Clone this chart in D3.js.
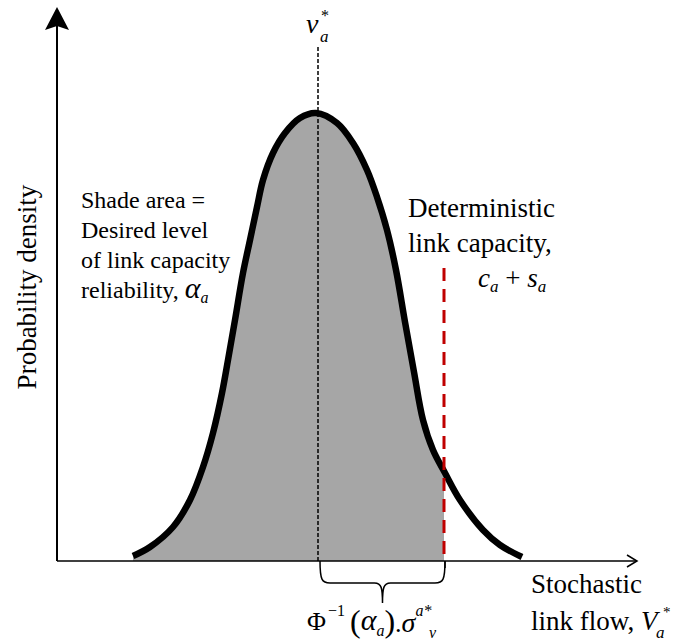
<!DOCTYPE html>
<html>
<head>
<meta charset="utf-8">
<script src="https://cdn.jsdelivr.net/npm/d3@7"></script>
<style>
  html, body { margin: 0; padding: 0; background: #fff; }
</style>
</head>
<body>
<div id="chart"></div>
<script>
// curve (flow units, density units)
var flow    = [76, 93, 116, 133, 146, 156, 165, 171, 178, 186, 193, 200, 206, 216, 228, 243, 259, 280, 296, 310, 320, 330, 339, 348, 357, 366, 376, 388, 403, 426, 443, 465];
var density = [5, 14, 34, 61, 94, 128, 168, 201, 241, 288, 321, 354, 381, 408, 428, 443, 448, 438, 418, 391, 364, 331, 291, 239, 189, 141, 111, 88, 61, 31, 16, 4];
var meanFlow = 261;      // v_a*
var capFlow = 387;       // c_a + s_a
var capTop = 293;        // where the red dashed line starts

var W = 674, H = 643;
var svg = d3.select("#chart").append("svg").attr("width", W).attr("height", H)
  .attr("font-family", "'Liberation Serif', 'Times New Roman', 'DejaVu Serif', serif");

var x = d3.scaleLinear().domain([0, 580]).range([57, 637]);
var y = d3.scaleLinear().domain([0, 554]).range([561, 7]);

var pts = flow.map(function(f, i) { return [f, density[i]]; });

// shaded area, clipped at capacity
svg.append("clipPath").attr("id", "clip")
  .append("rect").attr("x", 0).attr("y", 0).attr("width", x(capFlow)).attr("height", H);

var area = d3.area().x(function(d) { return x(d[0]); }).y0(y(0)).y1(function(d) { return y(d[1]); })
  .curve(d3.curveCatmullRom);
svg.append("path").datum(pts).attr("d", area)
  .attr("fill", "#a6a6a6").attr("clip-path", "url(#clip)");

// mean dashed line
svg.append("line")
  .attr("x1", x(meanFlow)).attr("x2", x(meanFlow))
  .attr("y1", 47).attr("y2", y(0))
  .attr("stroke", "#000").attr("stroke-width", 1.5).attr("stroke-dasharray", "4,2");

// curve
var line = d3.line().x(function(d) { return x(d[0]); }).y(function(d) { return y(d[1]); })
  .curve(d3.curveCatmullRom);
svg.append("path").datum(pts).attr("d", line)
  .attr("fill", "none").attr("stroke", "#000").attr("stroke-width", 6.5);

// capacity red dashed line
svg.append("line")
  .attr("x1", x(capFlow)).attr("x2", x(capFlow))
  .attr("y1", y(capTop)).attr("y2", y(0))
  .attr("stroke", "#c00000").attr("stroke-width", 3).attr("stroke-dasharray", "13,8");

// axes
svg.append("line").attr("x1", x(0)).attr("x2", x(0)).attr("y1", y(0)).attr("y2", 26)
  .attr("stroke", "#000").attr("stroke-width", 2);
svg.append("path").attr("d", "M57,7 L45,30 L57,26 L69,30 Z").attr("fill", "#000");
svg.append("line").attr("x1", x(0)).attr("x2", 636).attr("y1", y(0)).attr("y2", y(0))
  .attr("stroke", "#000").attr("stroke-width", 1.5);
svg.append("path").attr("d", "M627,555 L637,561 L627,567")
  .attr("fill", "none").attr("stroke", "#000").attr("stroke-width", 1.5);
svg.append("line").attr("x1", x(capFlow) + 1).attr("x2", x(capFlow) + 1).attr("y1", y(0)).attr("y2", 568)
  .attr("stroke", "#000").attr("stroke-width", 1.5);

// brace
var bl = x(meanFlow) + 2, br = x(capFlow) + 1, bm = (bl + br) / 2, by = y(0);
svg.append("path")
  .attr("d", "M" + bl + "," + by + " C" + bl + "," + (by + 19) + " " + (bl + 2) + "," + (by + 22) + " " + (bl + 10) + "," + (by + 22) +
    " L" + (bm - 8) + "," + (by + 22) + " C" + (bm - 1) + "," + (by + 22) + " " + bm + "," + (by + 27) + " " + bm + "," + (by + 42) +
    " C" + bm + "," + (by + 27) + " " + (bm + 1) + "," + (by + 22) + " " + (bm + 8) + "," + (by + 22) +
    " L" + (br - 10) + "," + (by + 22) + " C" + (br - 2) + "," + (by + 22) + " " + br + "," + (by + 19) + " " + br + "," + by)
  .attr("fill", "none").attr("stroke", "#000").attr("stroke-width", 1.5);

// texts
svg.append("text").attr("transform", "translate(36,287) rotate(-90)")
  .attr("text-anchor", "middle").attr("font-size", 27).text("Probability density");

var left = ["Shade area =", "Desired level", "of link capacity"];
left.forEach(function(s, i) {
  svg.append("text").attr("x", 81).attr("y", 208 + i * 30).attr("font-size", 24).text(s);
});
var t4 = svg.append("text").attr("x", 81).attr("y", 298).attr("font-size", 24);
t4.append("tspan").text("reliability, ");
t4.append("tspan").attr("font-style", "italic").attr("font-size", 30).text("\u03b1");
t4.append("tspan").attr("font-style", "italic").attr("font-size", 16).attr("dy", 5).text("a");

svg.append("text").attr("x", 408).attr("y", 217).attr("font-size", 27).text("Deterministic");
svg.append("text").attr("x", 408).attr("y", 252).attr("font-size", 27).text("link capacity,");
var cs = svg.append("text").attr("x", 478).attr("y", 287).attr("font-size", 27);
cs.append("tspan").attr("font-style", "italic").text("c");
cs.append("tspan").attr("font-style", "italic").attr("font-size", 17).attr("dy", 5).text("a");
cs.append("tspan").attr("dy", -5).text(" + ");
cs.append("tspan").attr("font-style", "italic").text("s");
cs.append("tspan").attr("font-style", "italic").attr("font-size", 17).attr("dy", 5).text("a");

svg.append("text").attr("x", 306).attr("y", 33).attr("font-size", 28).attr("font-style", "italic").text("v");
svg.append("text").attr("x", 320).attr("y", 42).attr("font-size", 17).attr("font-style", "italic").text("a");
svg.append("text").attr("x", 321).attr("y", 21).attr("font-size", 16).text("*");

svg.append("text").attr("x", 531).attr("y", 593).attr("font-size", 27).text("Stochastic");
var lf = svg.append("text").attr("x", 531).attr("y", 630).attr("font-size", 27);
lf.append("tspan").text("link flow, ");
lf.append("tspan").attr("font-style", "italic").text("V");
svg.append("text").attr("x", 656).attr("y", 638).attr("font-size", 17).attr("font-style", "italic").text("a");
svg.append("text").attr("x", 663).attr("y", 617).attr("font-size", 15).text("*");

// formula
var f = svg.append("text").attr("x", 307).attr("y", 630).attr("font-size", 26);
f.append("tspan").text("\u03a6");
f.append("tspan").attr("font-size", 16).attr("dy", -14).attr("dx", 2).text("\u22121");
f.append("tspan").attr("font-size", 32).attr("dy", 16).attr("dx", 5).text("(");
f.append("tspan").attr("font-style", "italic").attr("font-size", 30).attr("dy", -2).text("\u03b1");
f.append("tspan").attr("font-style", "italic").attr("font-size", 16).attr("dy", 6).text("a");
f.append("tspan").attr("font-size", 32).attr("dy", -4).text(")");
f.append("tspan").attr("font-size", 26).text(".");
f.append("tspan").attr("font-style", "italic").attr("font-size", 28).text("\u03c3");
f.append("tspan").attr("font-style", "italic").attr("font-size", 16).attr("dy", -16).text("a*");
svg.append("text").attr("x", 429).attr("y", 638).attr("font-size", 16).attr("font-style", "italic").text("v");
</script>
</body>
</html>
